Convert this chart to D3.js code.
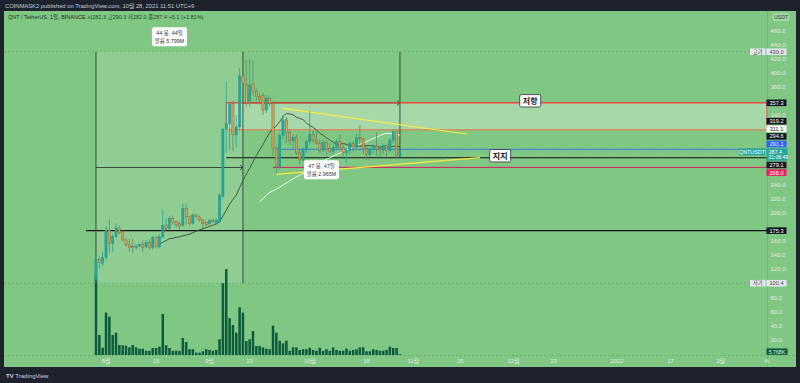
<!DOCTYPE html>
<html>
<head>
<meta charset="utf-8">
<script src="https://cdn.jsdelivr.net/npm/d3@7"></script>
<style>
  html, body { margin: 0; padding: 0; background: #1e222d; }
  svg { display: block; font-family: "Liberation Sans", "Noto Sans CJK KR", Arial, sans-serif; }
</style>
</head>
<body>
<script>
'use strict'

// ---- data ----
const startDate = '2021-07-29'
const opens = [106, 134, 129, 137, 176, 157, 167, 179, 174, 162, 155, 152.4, 151.5, 153, 156, 152, 158, 151, 166, 152,
  167, 183, 178.5, 193, 188, 186, 183, 207, 195, 186, 197.5, 195, 190.5, 187, 185, 189.5, 186, 188, 224, 320,
  328, 356.5, 311.5, 323, 395.5, 384, 360, 384, 373, 366, 368, 347, 363.5, 356.5, 292.5, 266, 311, 333, 315, 303,
  308, 286, 276, 290, 302, 312, 304, 300, 290, 301, 292, 288, 294, 302, 293, 286, 289, 299, 294, 308,
  306, 292, 284, 291, 296, 292, 290, 297, 289, 304, 316, 282.3]
const highs = [142, 139, 145, 182, 191, 170, 186, 182, 177, 165, 164, 164, 156, 158, 162, 162, 163, 168, 168, 170,
  205, 193, 196, 197, 190, 188, 214, 214, 197, 200, 199, 197, 192, 189, 192, 192, 193, 229, 322, 387,
  359, 360, 340, 407, 430, 418, 420, 418, 378, 370, 372, 368, 366, 360, 296, 314, 340, 337, 320, 312,
  312, 292, 294, 304, 346, 318, 316, 305, 306, 304, 300, 298, 306, 312, 298, 292, 302, 303, 314, 326,
  308, 296, 296, 298, 316, 296, 298, 299, 308, 320, 319, 290.3]
const lows = [100.4, 122, 125, 133, 143, 145, 165, 170, 160, 152, 145, 143, 148, 152, 145, 150, 148, 148, 150, 150,
  164, 176, 176, 184, 180, 176, 181, 183, 182, 184, 193, 188, 176, 180, 182, 186, 184, 186, 222, 286,
  290, 288, 294, 318, 375, 352, 352, 368, 360, 355, 340, 343, 352, 281, 257, 262, 305, 300, 298, 290,
  283, 270, 272, 286, 298, 300, 298, 286, 287, 280, 285, 283, 290, 290, 282, 272, 284, 288, 290, 298,
  285, 276, 280, 285, 282, 280, 284, 281, 286, 300, 278, 282.0]
const closes = [134, 130, 137, 176, 157, 167, 179, 172, 162, 155, 151.5, 151, 153.5, 155.5, 151, 158, 151, 166, 152.5, 167,
  183, 178.5, 193, 186.5, 183.5, 181, 207, 195, 185, 197.5, 195.5, 190.5, 185, 183.5, 189.5, 188, 190.5, 226, 319.5, 328,
  355.5, 311.5, 323, 395.5, 385, 357, 382.5, 373, 366, 362, 347, 363.5, 356.5, 292.5, 266, 311, 333, 315, 303, 308,
  286, 276, 290, 302, 312, 304, 300, 290, 301, 292, 288, 294, 302, 293, 286, 289, 299, 294, 308, 306,
  292, 284, 291, 296, 292, 290, 297, 289, 304, 316, 282.3, 287.4]
// volume in thousands of QNT
const volumes = [584, 146, 53, 309, 280, 146, 163, 73, 71, 68, 56, 73, 56, 46, 46, 31, 31, 51, 51, 61,
  299, 71, 51, 31, 31, 31, 124, 95, 42, 42, 17, 17, 27, 42, 37, 31, 37, 115, 523, 626,
  268, 219, 163, 348, 309, 102, 115, 175, 66, 66, 56, 46, 42, 214, 163, 104, 85, 104, 31, 56,
  56, 37, 42, 42, 53, 37, 31, 53, 31, 42, 31, 56, 37, 31, 31, 46, 31, 37, 42, 56,
  56, 27, 27, 42, 37, 31, 31, 37, 61, 51, 51, 5.768]

const priceTicks = d3.range(20, 481, 20)
const timeTickDates = ['2021-08-01', '2021-08-16', '2021-09-01', '2021-09-13', '2021-10-01', '2021-10-18',
  '2021-11-01', '2021-11-15', '2021-12-01', '2021-12-13', '2022-01-01', '2022-01-17', '2022-02-01']
const timeTickLabels = ['8월', '16', '9월', '13', '10월', '18', '11월', '15', '12월', '13', '2022', '17', '2월']

const rangeHigh = 430.0
const rangeLow = 100.4
const resistanceLevels = [357.3, 319.2]
const supportLevel = 279.1
const blueLevel = 291.1
const pinkLevel = 265.4
const baseLevel = 175.3
const lastPrice = 287.4
const upperTrend = [['2021-09-23', 349.5], ['2021-11-17', 312.9]]
const lowerTrend = [['2021-09-21', 255.5], ['2021-11-21', 279.2]]
const tagValues = [357.3, 319.2, 311.1, 294.6, 291.1, 287.4, 279.1, 268.0, 175.3]
const rangeTexts = [['44 봉, 44일', '볼륨 5.799M'], ['47 봉, 47일', '볼륨 2.965M']]

// ---- layout ----
const W = 800, H = 383
const pane = {left: 4, top: 11, right: 767, bottom: 355}
const green = '#81c784'
const axisText = '#e4e9e4'

const parse = d3.utcParse('%Y-%m-%d')
const x = d3.scaleUtc()
  .domain([parse('2021-08-01'), parse('2022-02-01')])
  .range([106, 720.6])
const y = d3.scaleLinear().domain([20, 460]).range([339.7, 30.7])
const volY = d3.scaleLinear().domain([0, 700]).range([pane.bottom, 259])

const bars = opens.map((o, i) => ({
  date: d3.utcDay.offset(parse(startDate), i),
  o, h: highs[i], l: lows[i], c: closes[i], v: volumes[i]
}))

function sma (n) {
  return bars.map((b, i) => i < n - 1 ? null : {date: b.date, v: d3.mean(closes.slice(i - n + 1, i + 1))})
    .filter(d => d)
}

const svg = d3.select('body').append('svg')
  .attr('width', W).attr('height', H)

svg.append('rect').attr('width', W).attr('height', H).attr('fill', '#1e222d')
svg.append('rect')
  .attr('x', 4).attr('y', 11).attr('width', 792).attr('height', 356)
  .attr('fill', green)

svg.append('clipPath').attr('id', 'pane')
  .append('rect')
  .attr('x', pane.left).attr('y', pane.top)
  .attr('width', pane.right - pane.left).attr('height', pane.bottom - pane.top)

const g = svg.append('g').attr('clip-path', 'url(#pane)')

// high / low dashed markers
;[rangeHigh, rangeLow].forEach(p => {
  g.append('line')
    .attr('x1', pane.left).attr('x2', pane.right)
    .attr('y1', y(p)).attr('y2', y(p))
    .attr('stroke', 'rgba(0,0,0,0.14)').attr('stroke-dasharray', '2,2')
})
svg.append('line')
  .attr('x1', pane.left).attr('x2', 796)
  .attr('y1', pane.bottom + 0.5).attr('y2', pane.bottom + 0.5)
  .attr('stroke', 'rgba(0,0,0,0.12)').attr('stroke-dasharray', '2,2')
svg.append('line')
  .attr('x1', pane.right + 0.5).attr('x2', pane.right + 0.5)
  .attr('y1', 11).attr('y2', 367)
  .attr('stroke', 'rgba(0,0,0,0.1)')

// first date range (fill)
const r0 = x(bars[0].date), r1 = x(bars[44].date), r2 = x(bars[91].date)
g.append('rect')
  .attr('x', r0).attr('y', y(rangeHigh))
  .attr('width', r1 - r0).attr('height', y(rangeLow) - y(rangeHigh))
  .attr('fill', 'rgba(255,255,255,0.12)')

// resistance zone
const zoneX = x(bars[39].date)
g.append('rect')
  .attr('x', zoneX).attr('y', y(resistanceLevels[0]))
  .attr('width', pane.right - zoneX)
  .attr('height', y(resistanceLevels[1]) - y(resistanceLevels[0]))
  .attr('fill', 'rgba(255,255,255,0.3)')
  .attr('stroke', '#f0413a').attr('stroke-width', 1)

// volume
g.selectAll('rect.vol').data(bars).enter().append('rect')
  .attr('class', 'vol')
  .attr('x', d => x(d.date) - 1.25)
  .attr('width', 2.5)
  .attr('y', d => volY(d.v))
  .attr('height', d => pane.bottom - volY(d.v))
  .attr('fill', '#0b5b3c')

// horizontal levels
function hline (p, fromDate, color, width) {
  g.append('line')
    .attr('x1', fromDate ? x(parse(fromDate)) : pane.left).attr('x2', pane.right)
    .attr('y1', y(p)).attr('y2', y(p))
    .attr('stroke', color).attr('stroke-width', width)
}
hline(resistanceLevels[1], '2021-09-06', '#d98c5f', 1.1)
hline(baseLevel, '2021-07-26', '#111', 1.1)
hline(supportLevel, '2021-09-06', '#111', 1.1)
hline(blueLevel, '2021-09-21', '#3b78e7', 1)
hline(pinkLevel, '2021-09-20', '#d81b60', 1)
g.append('line')
  .attr('x1', r2).attr('x2', pane.right)
  .attr('y1', y(lastPrice)).attr('y2', y(lastPrice))
  .attr('stroke', '#26a69a').attr('stroke-dasharray', '1,2').attr('opacity', 0.6)

// date range measures
const rangeStroke = 'rgba(35,45,38,0.8)'
function arrowLine (xa, xb, yy) {
  g.append('line').attr('x1', xa).attr('x2', xb).attr('y1', yy).attr('y2', yy)
    .attr('stroke', rangeStroke)
  g.append('path')
    .attr('d', `M${xb - 3},${yy - 2.5}L${xb},${yy}L${xb - 3},${yy + 2.5}`)
    .attr('fill', 'none').attr('stroke', rangeStroke)
}
;[[r0, rangeHigh, rangeLow], [r1, rangeHigh, rangeLow], [r2, rangeHigh, supportLevel]].forEach(([xx, a, b]) => {
  g.append('line').attr('x1', xx).attr('x2', xx).attr('y1', y(a)).attr('y2', y(b))
    .attr('stroke', rangeStroke)
})
arrowLine(r0, r1, y((rangeHigh + rangeLow) / 2))
arrowLine(r1, r2, y(resistanceLevels[0]))

// trend lines
;[upperTrend, lowerTrend].forEach(t => {
  g.append('line')
    .attr('x1', x(parse(t[0][0]))).attr('y1', y(t[0][1]))
    .attr('x2', x(parse(t[1][0]))).attr('y2', y(t[1][1]))
    .attr('stroke', '#ffeb3b').attr('stroke-width', 1.2)
})

// moving averages
const line = d3.line().x(d => x(d.date)).y(d => y(d.v))
g.append('path').datum(sma(50)).attr('d', line)
  .attr('fill', 'none').attr('stroke', '#ffffff').attr('stroke-width', 1).attr('opacity', 0.85)
g.append('path').datum(sma(20)).attr('d', line)
  .attr('fill', 'none').attr('stroke', '#3a4a3c').attr('stroke-width', 0.9)

// red resistance line on top
hline(resistanceLevels[0], '2021-09-06', '#f0413a', 1.1)

// candles
const up = d => d.c >= d.o
const candles = g.selectAll('g.candle').data(bars).enter().append('g').attr('class', 'candle')
candles.append('line')
  .attr('x1', d => x(d.date)).attr('x2', d => x(d.date))
  .attr('y1', d => y(d.h)).attr('y2', d => y(d.l))
  .attr('stroke', d => up(d) ? '#26a69a' : '#5d8a6a').attr('stroke-width', 0.8)
candles.append('rect')
  .attr('x', d => x(d.date) - 1.1).attr('width', 2.2)
  .attr('y', d => y(Math.max(d.o, d.c)))
  .attr('height', d => Math.max(0.7, Math.abs(y(d.o) - y(d.c))))
  .attr('fill', d => up(d) ? '#26a69a' : '#cba35c')
  .attr('stroke', d => up(d) ? '#1f8f84' : '#7a5a2a').attr('stroke-width', 0.4)

// measure labels
function infoBox (cx, top, lines) {
  const bw = 35, bh = 19
  svg.append('rect').attr('x', cx - bw / 2).attr('y', top).attr('width', bw).attr('height', bh)
    .attr('rx', 2).attr('fill', '#ffffff')
  lines.forEach((t, i) => {
    svg.append('text').attr('x', cx).attr('y', top + 7.5 + i * 8)
      .attr('text-anchor', 'middle').attr('font-size', 5.4).attr('fill', '#2a2e39').text(t)
  })
}
infoBox((r0 + r1) / 2, y(rangeHigh) - 24.5, rangeTexts[0])
infoBox((r1 + r2) / 2, y(supportLevel) + 2.5, rangeTexts[1])

// callouts
function callout (dateStr, p, t) {
  const cx = x(parse(dateStr)), cy = y(p) - 2
  svg.append('rect').attr('x', cx - 10.5).attr('y', cy - 6.2).attr('width', 21).attr('height', 12.4)
    .attr('rx', 1.5).attr('fill', '#fff').attr('stroke', '#2a2e39').attr('stroke-width', 0.8)
  svg.append('text').attr('x', cx).attr('y', cy + 3).attr('text-anchor', 'middle')
    .attr('font-size', 8).attr('font-weight', 'bold').attr('fill', '#131722').text(t)
}
callout('2021-12-06', resistanceLevels[0], '저항')
callout('2021-11-27', supportLevel, '지지')

// price tags with stacking around the last-price tag
const tagStyle = new Map([
  [357.3, ['#131722', '#fff']], [319.2, ['#131722', '#fff']], [311.1, ['#ffffff', '#131722']],
  [294.6, ['#131722', '#fff']], [291.1, ['#2962ff', '#fff']], [287.4, ['#26a69a', '#fff']],
  [279.1, ['#131722', '#fff']], [268.0, ['#e91e63', '#fff']], [175.3, ['#131722', '#fff']]
])
const half = 3.3
const anchorY = y(lastPrice)
const tags = tagValues.map(v => ({v, cy: y(v)}))
let limit = anchorY - 3.6
tags.filter(t => t.v > lastPrice).sort((a, b) => b.cy - a.cy).forEach(t => {
  t.cy = Math.min(t.cy, limit - 1 - half)
  limit = t.cy - half
})
limit = anchorY + 8.8
tags.filter(t => t.v < lastPrice).sort((a, b) => a.cy - b.cy).forEach(t => {
  t.cy = Math.max(t.cy, limit + 1 + half)
  limit = t.cy + half
})

// price axis ticks (skip the ones hidden under a tag or the currency box)
const fmt = d3.format('.1f')
const covered = tags.map(t => t.cy).concat([y(rangeHigh), y(rangeLow)])
svg.selectAll('text.ptick')
  .data(priceTicks.filter(p => y(p) > 23 && y(p) < 349 && covered.every(c => Math.abs(c - y(p)) > 6.2)))
  .enter().append('text')
  .attr('class', 'ptick')
  .attr('x', 770.5).attr('y', d => y(d) + 2)
  .attr('font-size', 6).attr('fill', axisText)
  .text(d => fmt(d))

tags.forEach(t => {
  const [bg, fg] = tagStyle.get(t.v)
  if (t.v === lastPrice) {
    svg.append('rect').attr('x', 766.5).attr('y', t.cy - 3.6).attr('width', 21).attr('height', 12.4)
      .attr('fill', bg)
    svg.append('text').attr('x', 768.5).attr('y', t.cy + 1.9).attr('font-size', 5.4).attr('fill', fg).text(fmt(t.v))
    svg.append('text').attr('x', 768.5).attr('y', t.cy + 7).attr('font-size', 5).attr('fill', fg).text('21:08:49')
    svg.append('rect').attr('x', 739).attr('y', t.cy - 3.5).attr('width', 26).attr('height', 7)
      .attr('fill', bg)
    svg.append('text').attr('x', 752).attr('y', t.cy + 1.9).attr('text-anchor', 'middle')
      .attr('font-size', 5.4).attr('fill', fg).text('QNTUSDT')
  } else {
    svg.append('rect').attr('x', 766.5).attr('y', t.cy - half).attr('width', 20).attr('height', half * 2)
      .attr('fill', bg)
    svg.append('text').attr('x', 776.5).attr('y', t.cy + 2).attr('text-anchor', 'middle')
      .attr('font-size', 5.6).attr('fill', fg).text(fmt(t.v))
  }
})

// high / low tags
;[['고가', rangeHigh], ['저가', rangeLow]].forEach(([name, p]) => {
  const cy = y(p)
  svg.append('rect').attr('x', 750).attr('y', cy - half).attr('width', 15.5).attr('height', half * 2).attr('fill', '#e3e7f0')
  svg.append('text').attr('x', 757.7).attr('y', cy + 2).attr('text-anchor', 'middle')
    .attr('font-size', 5.4).attr('fill', '#434651').text(name)
  svg.append('rect').attr('x', 766.5).attr('y', cy - half).attr('width', 20).attr('height', half * 2).attr('fill', '#e3e7f0')
  svg.append('text').attr('x', 776.5).attr('y', cy + 2).attr('text-anchor', 'middle')
    .attr('font-size', 5.6).attr('fill', '#434651').text(fmt(p))
})

// last volume tag
const lastVol = volumes[volumes.length - 1]
svg.append('rect').attr('x', 766.5).attr('y', pane.bottom - 6.6).attr('width', 21).attr('height', 6.4).attr('fill', '#0b5b3c')
svg.append('text').attr('x', 777).attr('y', pane.bottom - 1.5).attr('text-anchor', 'middle')
  .attr('font-size', 5.2).attr('fill', '#e0f2e9').text(d3.format('.3f')(lastVol) + 'K')

// time axis
svg.selectAll('text.ttick').data(timeTickDates).enter().append('text')
  .attr('class', 'ttick')
  .attr('x', d => x(parse(d))).attr('y', 363)
  .attr('text-anchor', 'middle').attr('font-size', 6).attr('fill', axisText)
  .text((d, i) => timeTickLabels[i])
svg.append('text').attr('x', 764).attr('y', 363).attr('font-size', 6).attr('fill', axisText).text('%')

// currency box
svg.append('rect').attr('x', 773).attr('y', 13.5).attr('width', 16).attr('height', 7).attr('rx', 1.5)
  .attr('fill', 'rgba(255,255,255,0.22)').attr('stroke', 'rgba(255,255,255,0.5)').attr('stroke-width', 0.5)
svg.append('text').attr('x', 781).attr('y', 19).attr('text-anchor', 'middle')
  .attr('font-size', 5.2).attr('fill', '#3a4a3c').text('USDT')

// header / legend / footer
svg.append('text').attr('x', 5).attr('y', 7.6).attr('font-size', 5.8).attr('fill', '#c8ccd4')
  .text('COINMASK2 published on TradingView.com, 10월 28, 2021 11:51 UTC+9')
const last = bars[bars.length - 1]
const prevClose = bars[bars.length - 2].c
const legend = svg.append('text').attr('x', 8).attr('y', 18.5).attr('font-size', 5.5).attr('fill', '#1f2b22')
legend.append('tspan').text('QNT / TetherUS, 1일, BINANCE  ')
legend.append('tspan').attr('fill', '#1d4a2a')
  .text(`시${fmt(last.o)} 고${fmt(last.h)} 저${fmt(last.l)} 종${fmt(last.c)} +${fmt(last.c - prevClose)} (+${d3.format('.2f')((last.c - prevClose) / prevClose * 100)}%)`)

const foot = svg.append('text').attr('x', 6).attr('y', 378).attr('font-size', 6).attr('fill', '#d1d4dc')
foot.append('tspan').attr('font-weight', 'bold').text('TV ')
foot.append('tspan').text('TradingView')
</script>
</body>
</html>
